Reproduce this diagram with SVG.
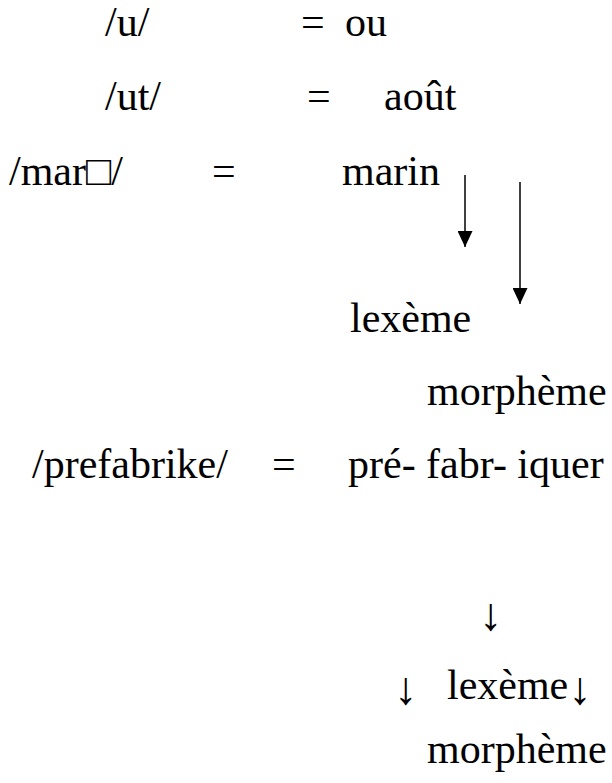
<svg xmlns="http://www.w3.org/2000/svg" width="612" height="783" viewBox="0 0 612 783">
<style>
text { font-family: "Liberation Serif", "Times New Roman", serif; font-size: 42px; fill: #000; }
.arr { font-size: 46px; }
.ln { stroke: #000; stroke-width: 1.5; fill: none; }
</style>
<defs>
<marker id="ah" viewBox="0 0 16 15" refX="16" refY="7.5" markerWidth="16" markerHeight="15" markerUnits="userSpaceOnUse" orient="auto">
<path d="M0,0 L16,7.5 L0,15 Z" fill="#000"/>
</marker>
</defs>
<rect width="612" height="783" fill="#fff"/>
<g id="row-u">
<text x="105" y="36">/u/</text>
<text x="301" y="36">=</text>
<text x="345" y="36">ou</text>
</g>
<g id="row-ut">
<text x="105" y="110">/ut/</text>
<text x="307" y="110">=</text>
<text x="384" y="110">août</text>
</g>
<g id="row-marin">
<text x="9" y="185">/mar□/</text>
<text x="212" y="185">=</text>
<text x="342" y="185">marin</text>
</g>
<g id="lexeme1"><text x="350" y="332">lexème</text></g>
<g id="morpheme1"><text x="427" y="405">morphème</text></g>
<g id="row-prefabrike">
<text x="32" y="478">/prefabrike/</text>
<text x="272" y="478">=</text>
<text x="348" y="478">pré- fabr- iquer</text>
</g>
<g id="arrow-line"><text class="arr" x="479" y="630">↓</text></g>
<g id="lexeme2">
<text class="arr" x="394" y="704">↓</text>
<text x="447" y="699">lexème<tspan class="arr" dy="5">↓</tspan></text>
</g>
<g id="morpheme2"><text x="427" y="763">morphème</text></g>
<g id="connectors">
<path class="ln" d="M465,175 L465,247" marker-end="url(#ah)"/>
<path class="ln" d="M520,182 L520,304" marker-end="url(#ah)"/>
</g>
</svg>
